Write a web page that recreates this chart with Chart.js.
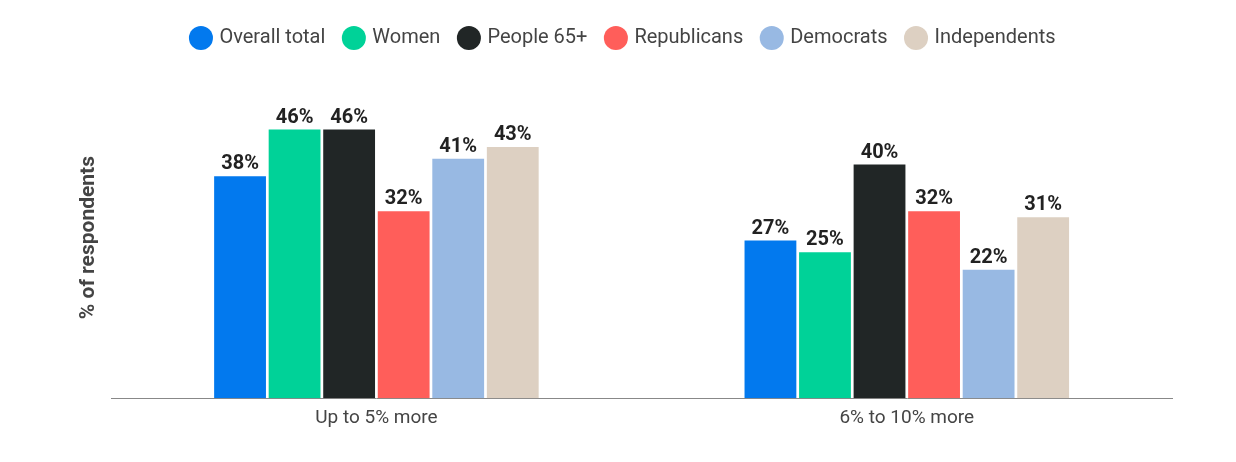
<!DOCTYPE html>
<html>
<head>
<meta charset="utf-8">
<script src="https://cdn.jsdelivr.net/npm/chart.js@4"></script>
<style>
  html, body { margin: 0; padding: 0; background: #fff; }
  #wrap { width: 1236px; height: 462px; }
</style>
</head>
<body>
<div id="wrap"><canvas id="myChart"></canvas></div>
<script>
const categories = ['Up to 5% more', '6% to 10% more']
const seriesNames = ['Overall total', 'Women', 'People 65+', 'Republicans', 'Democrats', 'Independents']
const overallTotal = [38, 27]
const women = [46, 25]
const people65 = [46, 40]
const republicans = [32, 32]
const democrats = [41, 22]
const independents = [43, 31]
const colors = ['#0279ee', '#00d298', '#212626', '#ff5e5a', '#98b9e3', '#ddd0c2']

const allSeries = [overallTotal, women, people65, republicans, democrats, independents]

// draws the value above each bar
const valueLabels = {
  id: 'valueLabels',
  afterDatasetsDraw(chart) {
    const c = chart.ctx
    c.save()
    c.font = 'bold 20px Roboto'
    c.fillStyle = '#222'
    c.textAlign = 'center'
    c.textBaseline = 'bottom'
    chart.data.datasets.forEach((ds, i) => {
      chart.getDatasetMeta(i).data.forEach((bar, j) => {
        c.fillText(ds.data[j] + '%', bar.x, bar.y - 2)
      })
    })
    c.restore()
  }
}

// a bit more room under the legend
const legendGap = {
  id: 'legendGap',
  beforeInit(chart) {
    const fit = chart.legend.fit
    chart.legend.fit = function () {
      fit.bind(chart.legend)()
      this.height += 19
    }
  }
}

const ctx = document.getElementById('myChart')
new Chart(ctx, {
  type: 'bar',
  data: {
    labels: categories,
    datasets: allSeries.map((d, i) => ({
      label: seriesNames[i],
      data: d,
      backgroundColor: colors[i],
      borderWidth: 0,
      categoryPercentage: 0.617,
      barPercentage: 0.95
    }))
  },
  options: {
    responsive: true,
    maintainAspectRatio: false,
    animation: false,
    layout: { padding: { left: 76, right: 64, top: 8, bottom: 31 } },
    plugins: {
      legend: {
        position: 'top',
        labels: {
          usePointStyle: true,
          pointStyle: 'circle',
          boxWidth: 17,
          boxHeight: 17,
          padding: 20,
          color: '#444',
          font: { family: 'Roboto', size: 20 }
        }
      },
      tooltip: { enabled: false }
    },
    scales: {
      x: {
        grid: { display: false },
        border: { color: '#888', width: 1 },
        ticks: { color: '#444', font: { family: 'Roboto', size: 19 }, padding: 1 }
      },
      y: {
        min: 0,
        max: 55,
        grid: { display: false },
        border: { display: false },
        ticks: { display: false },
        title: {
          display: true,
          text: '% of respondents',
          color: '#444',
          font: { family: 'Roboto', size: 21, weight: 'bold' },
          padding: { top: 0, bottom: 2 }
        }
      }
    }
  },
  plugins: [valueLabels, legendGap]
})
</script>
</body>
</html>
